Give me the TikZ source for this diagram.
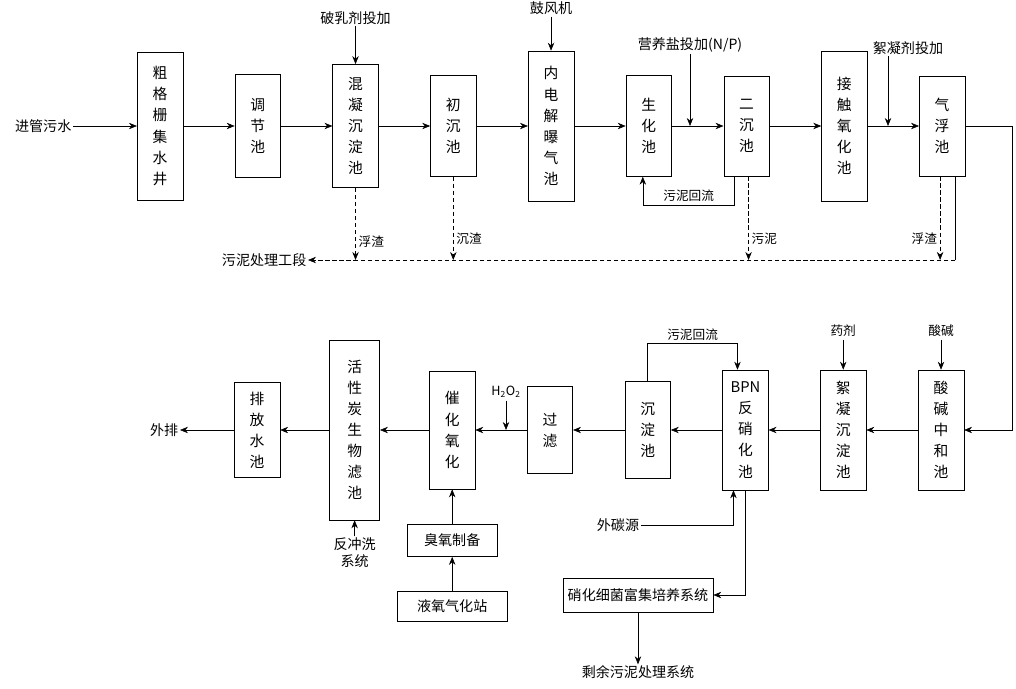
\documentclass[tikz,border=0pt]{standalone}
\usepackage{fontspec}
\setmainfont{Noto Sans CJK SC}
\usetikzlibrary{positioning,arrows.meta}

\begin{document}
\begin{tikzpicture}[
  node distance=0.75cm and 1.29cm,
  unit/.style={rectangle, draw, minimum width=1.14cm, inner sep=2pt, align=center,
               font=\fontsize{10.5}{15}\selectfont},
  aux/.style={rectangle, draw, minimum height=0.8cm, align=center, font=\fontsize{10}{12}\selectfont},
  lbl/.style={font=\fontsize{10}{12}\selectfont, inner sep=1pt, align=center},
  tag/.style={font=\fontsize{9}{10}\selectfont, inner sep=2pt},
  arr/.style={-{Stealth[length=2mm, width=1.6mm]}},
  mud/.style={-{Stealth[length=2mm, width=1.6mm]}, densely dashed},
]
  \useasboundingbox (0,0) rectangle (25.4,-17.2);

  % Row 1: pretreatment and biological stage
  \node[lbl] (inflow) at (1.08,-3.15) {进管污水};
  \node[unit, minimum height=3.7cm] (grid) at (4.0,-3.15) {粗\\格\\栅\\集\\水\\井};
  \node[unit, minimum height=2.58cm, right=of grid] (equal) {调\\节\\池};
  \node[unit, minimum height=3.08cm, right=of equal] (coag) {混\\凝\\沉\\淀\\池};
  \node[unit, minimum height=2.52cm, right=of coag] (prim) {初\\沉\\池};
  \node[unit, minimum height=3.75cm, right=of prim] (elec) {内\\电\\解\\曝\\气\\池};
  \node[unit, minimum height=2.52cm, right=of elec] (bio) {生\\化\\池};
  \node[unit, minimum height=2.5cm, right=of bio] (sec) {二\\沉\\池};
  \node[unit, minimum height=3.75cm, right=of sec] (contact) {接\\触\\氧\\化\\池};
  \node[unit, minimum height=2.5cm, right=of contact] (flot) {气\\浮\\池};

  % Dosing points, row 1
  \node[lbl, above=0.95cm of coag] (demul) {破乳剂投加};
  \node[lbl, above=0.85cm of elec] (fan) {鼓风机};
  \node[lbl] (nutr) at (17.25,-1.12) {营养盐投加(N/P)};
  \node[lbl] (pam) at (22.7,-1.2) {絮凝剂投加};
  \coordinate (pamin) at (22.2,0);

  % Sludge line
  \coordinate (mudline) at (7.95,-6.5);
  \node[lbl, anchor=east] (mudsys) at (7.7,-6.5) {污泥处理工段};
  \coordinate (edge) at (25.3,0);

  % Row 2: advanced treatment (right to left)
  \node[unit, minimum height=3.0cm] (neut) at (23.525,-10.75) {酸\\碱\\中\\和\\池};
  \node[unit, minimum height=3.0cm, left=of neut] (floc) {絮\\凝\\沉\\淀\\池};
  \node[unit, minimum height=3.0cm, left=of floc] (bpn) {BPN\\反\\硝\\化\\池};
  \node[unit, minimum height=2.42cm, left=of bpn] (settle) {沉\\淀\\池};
  \node[unit, minimum height=2.18cm, left=of settle] (sand) {过\\滤};
  \node[unit, minimum height=2.95cm, left=of sand] (oxid) {催\\化\\氧\\化};
  \node[unit, minimum height=4.5cm, minimum width=1.25cm, left=1.23cm of oxid] (baf) {活\\性\\炭\\生\\物\\滤\\池};
  \node[unit, minimum height=2.38cm, left=1.23cm of baf] (pool) {排\\放\\水\\池};
  \node[lbl, left=1.35cm of pool] (outlet) {外排};

  % Dosing points and side units, row 2
  \node[tag, above=0.75cm of neut] (acid) {酸碱};
  \node[tag, above=0.75cm of floc] (agent) {药剂};
  \node[tag] (hp) at (12.65,-9.8) {H\textsubscript{2}O\textsubscript{2}};
  \node[aux, minimum width=2.25cm, below=0.875cm of oxid] (ozone) {臭氧制备};
  \node[aux, minimum width=2.75cm, minimum height=0.75cm, below=0.85cm of ozone] (oxy) {液氧气化站};
  \node[lbl, below=0.4cm of baf] (wash) {反冲洗\\系统};
  \node[lbl] (carbon) at (15.45,-13.12) {外碳源};
  \node[aux, minimum width=3.75cm, minimum height=0.85cm] (culture) at (15.95,-14.875) {硝化细菌富集培养系统};
  \node[lbl, below=1.3cm of culture] (waste) {剩余污泥处理系统};

  % Arrows, row 1
  \draw[arr] (inflow) -- (grid);
  \draw[arr] (grid) -- (equal);
  \draw[arr] (equal) -- (coag);
  \draw[arr] (coag) -- (prim);
  \draw[arr] (prim) -- (elec);
  \draw[arr] (elec) -- (bio);
  \draw[arr] (bio) -- (sec);
  \draw[arr] (sec) -- (contact);
  \draw[arr] (contact) -- (flot);
  \draw[arr] (demul) -- (coag);
  \draw[arr] (fan) -- (elec);
  \draw[arr] (nutr.south) -- (nutr.south |- sec.west);
  \draw[arr] (pamin |- pam.south) -- (pamin |- flot.west);
  \draw[arr] ([xshift=-0.3cm]sec.south) -- ++(0,-0.72) -| node[tag, pos=0.25, above] {污泥回流} ([xshift=-0.15cm]bio.south);

  % Sludge
  \draw[mud] (coag.south) -- node[tag, pos=0.75, right] {浮渣} (coag.south |- mudline);
  \draw[mud] (prim.south) -- node[tag, pos=0.75, right] {沉渣} (prim.south |- mudline);
  \draw[mud] ([xshift=0.05cm]sec.south) -- node[tag, pos=0.75, right] {污泥} ([xshift=0.05cm]sec.south |- mudline);
  \draw[mud] ([xshift=-0.05cm]flot.south) -- node[tag, pos=0.75, left] {浮渣} ([xshift=-0.05cm]flot.south |- mudline);
  \draw ([xshift=-0.25cm]flot.south east) -- ([xshift=-0.25cm]flot.south east |- mudline);
  \draw[mud] ([xshift=-0.25cm]flot.south east |- mudline) -- (mudsys.east);

  % Link to row 2
  \draw[arr] (flot.east) -- (flot.east -| edge) |- (neut.east);

  % Arrows, row 2
  \draw[arr] (neut) -- (floc);
  \draw[arr] (floc) -- (bpn);
  \draw[arr] (bpn) -- (settle);
  \draw[arr] (settle) -- (sand);
  \draw[arr] (sand) -- (oxid);
  \draw[arr] (oxid) -- (baf);
  \draw[arr] (baf) -- (pool);
  \draw[arr] (pool) -- (outlet);
  \draw[arr] (acid) -- (neut);
  \draw[arr] (agent) -- (floc);
  \draw[arr] (hp) -- (hp |- sand.west);
  \draw[arr] (oxy) -- (ozone);
  \draw[arr] (ozone) -- (oxid);
  \draw[arr] (wash) -- (baf);
  \draw[arr] (settle.north) -- ++(0,0.95) -| node[tag, pos=0.25, above] {污泥回流} ([xshift=-0.2cm]bpn.north);
  \draw[arr] (carbon.east) -| ([xshift=-0.3cm]bpn.south);
  \draw[arr] (bpn.south) |- (culture.east);
  \draw[arr] (culture) -- (waste);
\end{tikzpicture}
\end{document}
